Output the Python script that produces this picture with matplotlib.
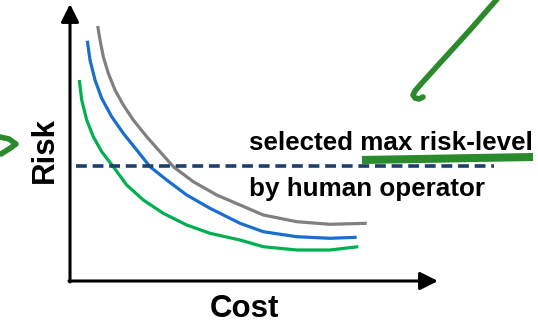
import matplotlib.pyplot as plt

plt.rcParams['font.family'] = ['Liberation Sans', 'DejaVu Sans']

# curve points (pixel space, y grows downward)
gray_x = [97.7, 100, 103.3, 108.3, 115, 123.3, 133.3, 146.7, 160, 173.3, 193.3,
          216.7, 240, 263.3, 296.7, 330, 366.7]
gray_y = [26, 40, 56.7, 73.3, 90, 105, 120, 136.7, 151.7, 166.7, 181.7,
          195, 205, 215, 221.7, 224.3, 223.3]

blue_x = [87.3, 90, 95, 101.7, 111.7, 123.3, 136.7, 150, 166.7, 186.7, 210,
          240, 263.3, 296.7, 330, 356.7]
blue_y = [40.7, 60, 80, 98.3, 116.7, 133.3, 150, 166.7, 180, 195, 208.3,
          223.3, 231.7, 236.7, 238.3, 237.3]

green_x = [79.3, 81.7, 86.7, 93.3, 101.7, 113.3, 126.7, 143.3, 163.3, 186.7, 210,
           240, 263.3, 296.7, 330, 358.3]
green_y = [80, 100, 120, 136.7, 151.7, 166.7, 185, 200, 213.3, 225, 233.3,
           240, 246.7, 250, 250, 246.7]

# risk threshold
risk_level = 166
risk_x = [76, 494]

# hand-drawn green marks
hook_x = [498, 470, 440, 421, 415, 413, 415, 419, 423]
hook_y = [-2, 30, 63, 84, 91, 95, 98, 99, 97]
under_x = [362, 533]
under_y = [160, 157]
chev_x = [0, 9, 16, 9, 1]
chev_y = [137, 139, 144, 149, 154]

origin = (70, 281)
x_tip = (438, 281)
y_tip = (70, 4)

fig = plt.figure(figsize=(5.38, 3.25), dpi=100)
ax = fig.add_axes([0, 0, 1, 1])
ax.set_xlim(0, 538)
ax.set_ylim(325, 0)
ax.axis('off')

arrow = dict(arrowstyle='-|>,head_length=0.4,head_width=0.2', lw=2.2, color='black',
             mutation_scale=27, shrinkA=0, shrinkB=0)
ax.annotate('', xy=y_tip, xytext=(origin[0], origin[1] + 1), arrowprops=arrow)
ax.annotate('', xy=x_tip, xytext=(origin[0] - 1, origin[1]), arrowprops=arrow)

ax.plot(gray_x, gray_y, color='#808080', lw=2.3, solid_capstyle='butt', solid_joinstyle='round')
ax.plot(blue_x, blue_y, color='#1a6ecc', lw=2.3, solid_capstyle='butt', solid_joinstyle='round')
ax.plot(green_x, green_y, color='#00b050', lw=2.3, solid_capstyle='butt', solid_joinstyle='round')

ax.plot(risk_x, [risk_level, risk_level], color='#1f3f6b', lw=2.6, dashes=(3.0, 1.6))

ax.plot(hook_x, hook_y, color='#2b8a2b', lw=4, solid_capstyle='round', solid_joinstyle='round')
ax.plot(under_x, under_y, color='#2b8a2b', lw=5.8, solid_capstyle='butt')
ax.plot(chev_x, chev_y, color='#2b8a2b', lw=4, solid_capstyle='round', solid_joinstyle='round')

ax.text(249, 150, 'selected max risk-level', fontsize=18.7, fontweight='bold', va='baseline', ha='left')
ax.text(249, 196, 'by human operator', fontsize=18.7, fontweight='bold', va='baseline', ha='left')
ax.text(53, 150, 'Risk', fontsize=22.5, fontweight='bold', rotation=90, rotation_mode='anchor',
        ha='center', va='baseline')
ax.text(244, 317, 'Cost', fontsize=22.5, fontweight='bold', ha='center', va='baseline')

fig.savefig('out.png', dpi=100)
